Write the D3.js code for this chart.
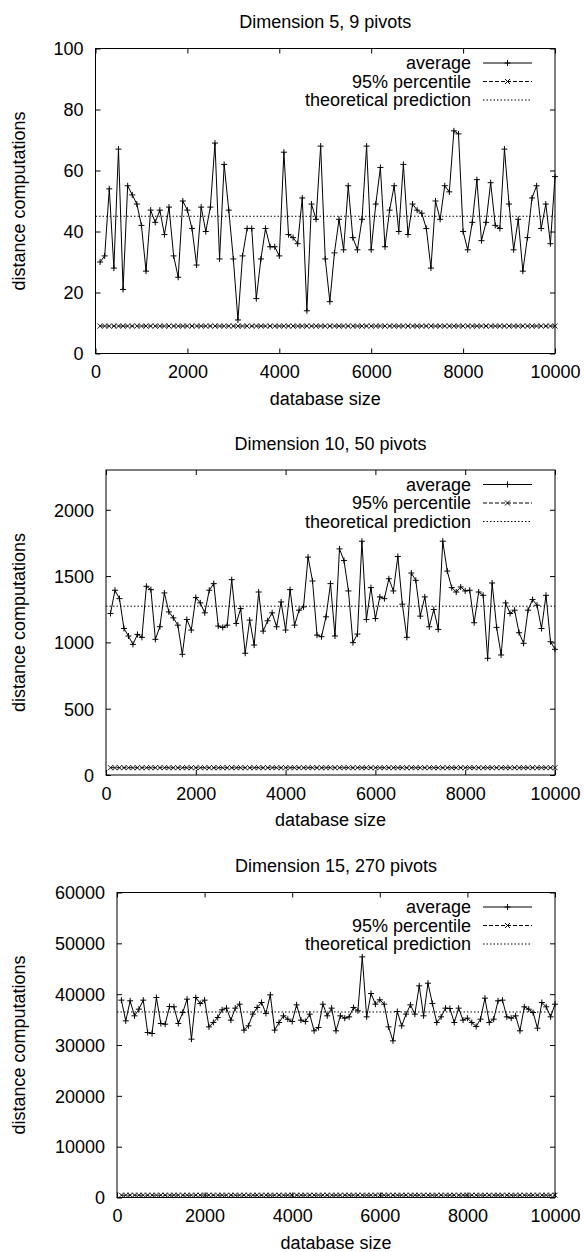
<!DOCTYPE html>
<html>
<head>
<meta charset="utf-8">
<script src="https://cdn.jsdelivr.net/npm/d3@7"></script>
<style>
	body { margin: 0; background: #fff; }
	svg { display: block; font-family: 'Liberation Sans', Arial, sans-serif; }
</style>
</head>
<body>
<script>
// database sizes (x values), same for all three runs
const sizes = [
	100, 200, 300, 400, 500, 600, 700, 800, 900, 1000,
	1100, 1200, 1300, 1400, 1500, 1600, 1700, 1800, 1900, 2000,
	2100, 2200, 2300, 2400, 2500, 2600, 2700, 2800, 2900, 3000,
	3100, 3200, 3300, 3400, 3500, 3600, 3700, 3800, 3900, 4000,
	4100, 4200, 4300, 4400, 4500, 4600, 4700, 4800, 4900, 5000,
	5100, 5200, 5300, 5400, 5500, 5600, 5700, 5800, 5900, 6000,
	6100, 6200, 6300, 6400, 6500, 6600, 6700, 6800, 6900, 7000,
	7100, 7200, 7300, 7400, 7500, 7600, 7700, 7800, 7900, 8000,
	8100, 8200, 8300, 8400, 8500, 8600, 8700, 8800, 8900, 9000,
	9100, 9200, 9300, 9400, 9500, 9600, 9700, 9800, 9900, 10000,
];

const average5 = [
	30, 32, 54, 28, 67, 21, 55, 52, 49, 42,
	27, 47, 43, 47, 39, 48, 32, 25, 50, 47,
	41, 29, 48, 40, 48, 69, 31, 62, 47, 31,
	11, 32, 41, 41, 18, 31, 41, 35, 35, 32,
	66, 39, 38, 36, 51, 14, 49, 44, 68, 31,
	17, 33, 44, 34, 55, 38, 34, 44, 68, 34,
	49, 61, 35, 47, 55, 40, 62, 39, 49, 47,
	46, 41, 28, 50, 44, 55, 53, 73, 72, 40,
	34, 43, 57, 37, 43, 56, 42, 41, 67, 49,
	34, 44, 27, 38, 51, 55, 41, 49, 36, 58,
];

const average10 = [
	1218, 1393, 1330, 1105, 1048, 985, 1060, 1038, 1423, 1398,
	1023, 1118, 1373, 1230, 1185, 1130, 910, 1173, 1093, 1338,
	1298, 1223, 1393, 1443, 1123, 1113, 1130, 1473, 1143, 1255,
	918, 1168, 980, 1380, 1085, 1163, 1223, 1118, 1305, 1093,
	1398, 1130, 1243, 1268, 1643, 1463, 1055, 1043, 1193, 1443,
	1048, 1705, 1618, 1388, 998, 1063, 1763, 1173, 1413, 1180,
	1343, 1330, 1480, 1388, 1648, 1288, 1038, 1523, 1468, 1198,
	1343, 1118, 1248, 1098, 1763, 1538, 1413, 1380, 1418, 1388,
	1393, 1148, 1380, 1355, 880, 1448, 1113, 905, 1298, 1218,
	1243, 1073, 993, 1243, 1323, 1280, 1105, 1355, 1005, 948,
];

const average15 = [
	38820, 34750, 38690, 35740, 37050, 38820, 32460, 32260, 39340, 34230,
	34100, 37570, 37510, 34230, 36390, 39020, 31150, 39340, 38160, 38820,
	33570, 34430, 35410, 36920, 37250, 34890, 37250, 38030, 32920, 33770,
	36070, 37380, 38360, 36200, 39870, 32920, 34430, 35740, 35080, 34620,
	37900, 34890, 34620, 36070, 32790, 33440, 38030, 35740, 37250, 32790,
	35740, 35280, 35540, 37380, 36720, 47340, 35540, 40130, 38030, 38890,
	38030, 33570, 30820, 36590, 33770, 36070, 37900, 36070, 41640, 35740,
	42160, 38160, 34430, 35540, 37250, 37180, 34430, 37250, 34890, 35280,
	34430, 33640, 35080, 39210, 34430, 35080, 38690, 38820, 35540, 35280,
	35740, 32790, 37510, 37050, 36390, 33310, 38360, 37510, 35540, 38030,
];

const titles = ['Dimension 5, 9 pivots', 'Dimension 10, 50 pivots', 'Dimension 15, 270 pivots'];
const averages = [average5, average10, average15];
const percentile = [9, 55, 460]; // flat in every run
const theory = [45, 1273, 36500];
const yMax = [100, 2300, 60000];
const yTicks = [
	[0, 20, 40, 60, 80, 100],
	[0, 500, 1000, 1500, 2000],
	[0, 10000, 20000, 30000, 40000, 50000, 60000],
];
const xTicks = [0, 2000, 4000, 6000, 8000, 10000];
const legendLabels = ['average', '95% percentile', 'theoretical prediction'];

// layout of the three stacked plots
const width = 584;
const height = 1252;
const plotRight = 555;
const plotHeight = 305;
const panels = [
	{ top: 48.5, left: 95.5 },
	{ top: 470, left: 106 },
	{ top: 892.5, left: 117 },
];

const svg = d3.select('body').append('svg')
	.attr('width', width)
	.attr('height', height)
	.style('font-size', '18px');

const plusPath = 'M-3,0H3M0,-3V3';
const crossPath = 'M-2.5,-2.5L2.5,2.5M-2.5,2.5L2.5,-2.5';
const fmt = d3.format('d');

averages.forEach((avg, i) => {
	const p = panels[i];
	const bottom = p.top + plotHeight;
	const x = d3.scaleLinear().domain([0, 10000]).range([p.left, plotRight]);
	const y = d3.scaleLinear().domain([0, yMax[i]]).range([bottom, p.top]);
	const g = svg.append('g');

	// axes, ticks pointing inward on all four sides
	const xb = g.append('g').attr('transform', `translate(0,${bottom})`)
		.call(d3.axisBottom(x).tickValues(xTicks).tickSize(-5).tickSizeOuter(0).tickFormat(fmt));
	xb.selectAll('text').attr('y', 18.5).attr('dy', '0.35em').style('font-size', '18px');
	g.append('g').attr('transform', `translate(0,${p.top})`)
		.call(d3.axisTop(x).tickValues(xTicks).tickSize(-5).tickSizeOuter(0).tickFormat(''));
	const yl = g.append('g').attr('transform', `translate(${p.left},0)`)
		.call(d3.axisLeft(y).tickValues(yTicks[i]).tickSize(-5).tickSizeOuter(0).tickFormat(fmt));
	yl.selectAll('text').attr('x', -12).attr('dy', '0.35em').style('font-size', '18px');
	g.append('g').attr('transform', `translate(${plotRight},0)`)
		.call(d3.axisRight(y).tickValues(yTicks[i]).tickSize(-5).tickSizeOuter(0).tickFormat(''));
	g.selectAll('.domain').remove();
	g.selectAll('.tick line').attr('stroke', '#000');
	g.selectAll('.tick text').attr('fill', '#000').style('font-family', null);

	g.append('rect')
		.attr('x', p.left).attr('y', p.top)
		.attr('width', plotRight - p.left).attr('height', plotHeight)
		.attr('fill', 'none').attr('stroke', '#000');

	// titles
	g.append('text')
		.attr('x', (p.left + plotRight) / 2).attr('y', p.top - 26.5).attr('dy', '0.35em')
		.attr('text-anchor', 'middle')
		.text(titles[i]);
	g.append('text')
		.attr('x', (p.left + plotRight) / 2).attr('y', bottom + 45).attr('dy', '0.35em')
		.attr('text-anchor', 'middle')
		.text('database size');
	g.append('text')
		.attr('transform', `translate(18.5,${(p.top + bottom) / 2}) rotate(-90)`)
		.attr('dy', '0.35em')
		.attr('text-anchor', 'middle')
		.text('distance computations');

	// theoretical prediction
	g.append('line')
		.attr('x1', x(0)).attr('x2', x(10000))
		.attr('y1', y(theory[i])).attr('y2', y(theory[i]))
		.attr('stroke', '#000').attr('stroke-dasharray', '1.5,2');

	// 95% percentile
	const pctData = sizes.map((s) => [s, percentile[i]]);
	const line = d3.line().x((d) => x(d[0])).y((d) => y(d[1]));
	g.append('path').datum(pctData)
		.attr('d', line)
		.attr('fill', 'none').attr('stroke', '#000').attr('stroke-dasharray', '4,2');
	g.append('g').selectAll('path').data(pctData).join('path')
		.attr('transform', (d) => `translate(${x(d[0])},${y(d[1])})`)
		.attr('d', crossPath)
		.attr('stroke', '#000').attr('stroke-width', 0.9);

	// average
	const avgData = sizes.map((s, j) => [s, avg[j]]);
	g.append('path').datum(avgData)
		.attr('d', line)
		.attr('fill', 'none').attr('stroke', '#000').attr('stroke-width', 1);
	g.append('g').selectAll('path').data(avgData).join('path')
		.attr('transform', (d) => `translate(${x(d[0])},${y(d[1])})`)
		.attr('d', plusPath)
		.attr('stroke', '#000').attr('stroke-width', 1);

	// key, top right inside the plot
	const key = g.append('g');
	legendLabels.forEach((label, k) => {
		const ky = p.top + 14.5 + k * 18.5;
		key.append('text')
			.attr('x', 471).attr('y', ky).attr('dy', '0.35em')
			.attr('text-anchor', 'end')
			.text(label);
		const sample = key.append('line')
			.attr('x1', 483).attr('x2', 532)
			.attr('y1', ky).attr('y2', ky)
			.attr('stroke', '#000');
		if (k === 1) sample.attr('stroke-dasharray', '4,2');
		if (k === 2) sample.attr('stroke-dasharray', '1.5,2');
		if (k < 2) {
			key.append('path')
				.attr('transform', `translate(507.5,${ky})`)
				.attr('d', k === 0 ? plusPath : crossPath)
				.attr('stroke', '#000');
		}
	});
});
</script>
</body>
</html>
